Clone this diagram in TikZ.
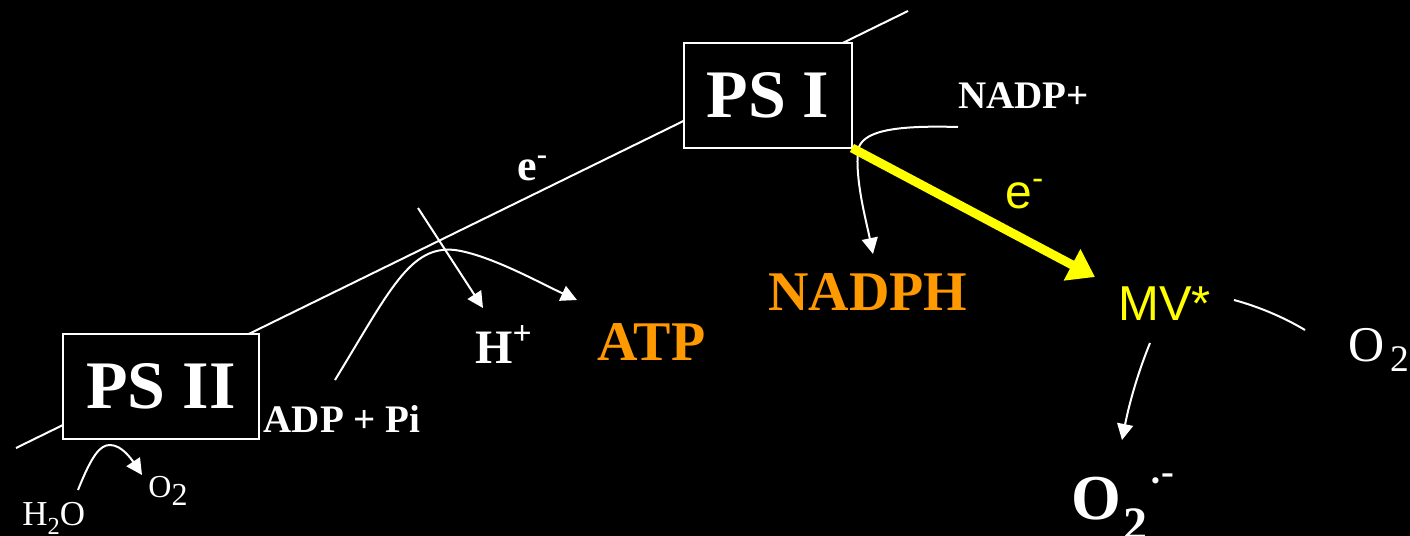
\documentclass[tikz,border=0pt]{standalone}
\usepackage{fontspec}
\setmainfont{Liberation Serif}
\setsansfont{Liberation Sans}
\usetikzlibrary{arrows.meta}
\definecolor{orng}{HTML}{FF9900}
\definecolor{yel}{HTML}{FFFF00}
\begin{document}
\begin{tikzpicture}[x=0.5pt,y=-0.5pt,
  wire/.style={draw=white, line width=1pt},
  arr/.style={draw=white, line width=1pt, -{Triangle[length=8pt,width=8pt]}},
  yarr/.style={draw=yel, line width=4.5pt, -{Triangle[length=13pt,width=17pt]}},
  psbox/.style={draw=white, line width=1.1pt, fill=black, text=white, inner sep=0pt,
    font=\bfseries\fontsize{34pt}{40pt}\selectfont},
  lbl/.style={text=white, inner sep=0pt, anchor=base west}]
\fill[black] (0,0) rectangle (1410,536);
\useasboundingbox (0,0) rectangle (1410,536);
% thin chain line
\coordinate (chainA) at (16,448);
\coordinate (chainB) at (908,11);
\draw[wire] (chainA) -- (chainB);
% boxes
\node[psbox, minimum width=98pt, minimum height=52.5pt] (ps2) at (161,386.5) {PS II};
\node[psbox, minimum width=84pt, minimum height=52.5pt] (ps1) at (768,95.5) {PS I};
% labels
\node[lbl, font=\bfseries\fontsize{22pt}{26pt}\selectfont] (e1) at (517,180) {e\textsuperscript{-}};
\node[lbl, anchor=base, font=\bfseries\fontsize{19.5pt}{24pt}\selectfont] (adp) at (342,432) {ADP + Pi};
\node[lbl, font=\bfseries\fontsize{24pt}{28pt}\selectfont] (hplus) at (475,363) {H\textsuperscript{+}};
\node[lbl, text=orng, font=\bfseries\fontsize{28pt}{32pt}\selectfont] (atp) at (597,360) {ATP};
\node[lbl, text=orng, font=\bfseries\fontsize{28pt}{32pt}\selectfont] (nadph) at (768,310) {NADPH};
\node[lbl, font=\bfseries\fontsize{19.5pt}{24pt}\selectfont] (nadp) at (958,108) {NADP+};
\node[lbl, text=yel, font=\sffamily\fontsize{24pt}{28pt}\selectfont] (e2) at (1005,208) {e\textsuperscript{-}};
\node[lbl, text=yel, font=\sffamily\fontsize{24.5pt}{28pt}\selectfont] (mv) at (1118,320) {MV*};
\node[lbl, font=\fontsize{25pt}{30pt}\selectfont] (o2r) at (1348.5,361)
  {O\kern0.1em\raisebox{-0.2em}{\scalebox{0.75}{2}}};
\node[lbl, font=\bfseries\fontsize{32pt}{38pt}\selectfont] (sup) at (1071,519)
  {O\kern0.03em\raisebox{-0.34em}{\scalebox{0.75}{2}}\kern0.03em\raisebox{0.4em}{\scalebox{0.6}{·}}\raisebox{0.54em}{\scalebox{0.6}{-}}};
\node[lbl, font=\fontsize{17.5pt}{21pt}\selectfont] (h2o) at (22,525)
  {H\raisebox{-0.28em}{\scalebox{0.7}{2}}O};
\node[lbl, font=\fontsize{16pt}{19pt}\selectfont] (o2s) at (148,497)
  {O\raisebox{-0.28em}{2}};
% connectors
\coordinate (hs) at (418,208);
\coordinate (ht) at (483,308);
\draw[arr] (hs) -- (ht);
\coordinate (as) at (335,380);
\coordinate (at) at (577,300);
\draw[arr] (as) .. controls (390,290) and (410,245) .. (455,250) .. controls (490,255) and (540,283) .. (at);
\coordinate (ws) at (78,490);
\coordinate (wt) at (142,475);
\draw[arr] (ws) .. controls (92,455) and (100,445) .. (110,445) .. controls (122,445) and (132,460) .. (wt);
\coordinate (ns) at (958,127);
\coordinate (nt) at (873,254);
\draw[arr] (ns) .. controls (890,125) and (862,132) .. (858,150) .. controls (855,180) and (866,220) .. (nt);
\coordinate (ys) at (852,148);
\coordinate (yt) at (1095,277);
\draw[yarr] (ys) -- (yt);
\coordinate (ms) at (1234,300);
\coordinate (me) at (1305,330);
\draw[wire] (ms) .. controls (1260,307) and (1285,318) .. (me);
\coordinate (vs) at (1150,343);
\coordinate (vt) at (1122,440);
\draw[arr] (vs) .. controls (1135,380) and (1128,410) .. (vt);
\end{tikzpicture}
\end{document}
